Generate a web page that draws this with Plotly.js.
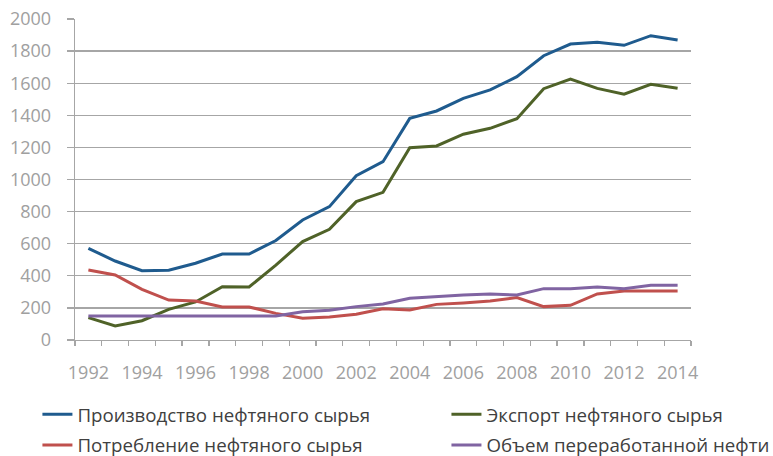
<!DOCTYPE html>
<html><head><meta charset="utf-8">
<script src="https://cdn.plot.ly/plotly-3.0.1.min.js"></script>
<style>html,body{margin:0;padding:0;background:#fff}#c{width:773px;height:456px}</style>
</head><body><div id="c"></div>
<script>
const years = [1992,1993,1994,1995,1996,1997,1998,1999,2000,2001,2002,2003,2004,2005,2006,2007,2008,2009,2010,2011,2012,2013,2014];
const production = [571,492,432,435,478,536,536,620,748,831,1024,1111,1381,1427,1506,1558,1641,1771,1844,1855,1836,1896,1869];
const exportVals = [139,87,120,191,237,332,330,467,613,690,862,920,1198,1209,1282,1319,1379,1566,1626,1568,1531,1593,1568];
const consumption = [436,405,316,249,243,206,206,166,135,143,160,195,187,222,231,243,264,208,216,287,305,303,305];
const refining = [150,150,150,150,150,150,150,150,176,185,208,224,260,272,280,287,280,320,320,330,320,341,341];
const names = ['Производство нефтяного сырья','Экспорт нефтяного сырья','Потребление нефтяного сырья','Объем переработанной нефти'];
const colors = ['#1f5b8e','#4f6228','#c0504d','#8064a2'];
const tickYears = [1992,1994,1996,1998,2000,2002,2004,2006,2008,2010,2012,2014];

const mk = (y, i, leg) => ({x: years, y: y, type: 'scatter', mode: 'lines', name: names[i],
  line: {color: colors[i], width: 3}, legend: leg, hoverinfo: 'skip'});
const data = [mk(production,0,'legend'), mk(exportVals,1,'legend2'), mk(consumption,2,'legend3'), mk(refining,3,'legend4')];

const gray = '#a6a6a6';
const leg = (x, y) => ({orientation: 'h', x: x, y: y, xanchor: 'left', yanchor: 'middle',
  font: {family: 'Open Sans', size: 18.7, color: '#404040'}, bgcolor: 'rgba(0,0,0,0)', itemclick: false});
const row1 = -0.2325, row2 = -0.3285, col1 = -0.061, col2 = 0.603;
const layout = {
  width: 773, height: 456,
  margin: {l: 75, r: 82, t: 19, b: 116, autoexpand: false},
  paper_bgcolor: '#fff', plot_bgcolor: '#fff',
  font: {family: 'Open Sans', color: '#a0a0a0', size: 18},
  showlegend: true,
  xaxis: {range: [1991.5, 2014.5], tickmode: 'array', tickvals: tickYears, ticktext: tickYears.map(String),
    ticks: '', showgrid: false, zeroline: false, showline: true, linecolor: gray, linewidth: 1.3,
    ticklabelstandoff: 16, tickfont: {size: 18, color: '#a0a0a0'},
    minor: {tick0: 1991.5, dtick: 1, ticks: 'outside', ticklen: 5, tickcolor: gray, tickwidth: 1.3, showgrid: false}},
  yaxis: {range: [0, 2000], tickmode: 'linear', tick0: 0, dtick: 200, showgrid: true, gridcolor: gray, gridwidth: 1.3,
    zeroline: false, showline: true, linecolor: gray, linewidth: 1.3, ticks: 'outside', ticklen: 7, tickcolor: gray, tickwidth: 1.3,
    ticklabelstandoff: 12, tickfont: {size: 18, color: '#a0a0a0'}},
  legend: leg(col1, row1),
  legend2: leg(col2, row1),
  legend3: leg(col1, row2),
  legend4: leg(col2, row2)
};
Plotly.newPlot('c', data, layout, {staticPlot: true});
</script></body></html>
